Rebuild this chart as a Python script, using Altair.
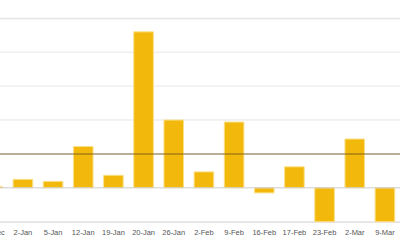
import altair as alt
import pandas as pd

dates = ["29-Dec", "2-Jan", "5-Jan", "12-Jan", "19-Jan", "20-Jan", "26-Jan",
         "2-Feb", "9-Feb", "16-Feb", "17-Feb", "23-Feb", "2-Mar", "9-Mar"]
values = [0.4, 2.5, 1.9, 12.2, 3.7, 46.0, 20.0, 4.7, 19.4, -1.5, 6.2, -10.0, 14.4, -10.0]
ref_value = [10]
grid_values = [-10, 10, 20, 30, 40, 50]

df = pd.DataFrame({"date": dates, "value": values})
ref = pd.DataFrame({"value": ref_value})
zero = pd.DataFrame({"value": [0]})
grid = pd.DataFrame({"value": grid_values})

x = alt.X(
    "date:N", sort=dates, title=None,
    scale=alt.Scale(paddingInner=0.35, paddingOuter=0.175),
    axis=alt.Axis(labelAngle=0, labelFont="Liberation Sans", labelFontSize=7.5,
                  labelColor="#555555", ticks=False, domain=False, grid=False, labelPadding=7),
)
y = alt.Y(
    "value:Q", title=None,
    scale=alt.Scale(domain=[-10, 50], nice=False, zero=False),
    axis=None,
)

grid_rules = alt.Chart(grid).mark_rule(color="#e6e6e6", strokeWidth=1).encode(y=y)
bars = alt.Chart(df).mark_bar(color="#f2b90c", stroke="#fbe08a", strokeWidth=1).encode(x=x, y=y)
zero_rule = alt.Chart(zero).mark_rule(color="#cccccc", strokeWidth=1).encode(y=alt.Y("value:Q"))
ref_rule = alt.Chart(ref).mark_rule(color="#6b4f16", opacity=0.55, strokeWidth=1.5).encode(y=alt.Y("value:Q"))

chart = alt.layer(grid_rules, bars, zero_rule, ref_rule).properties(
    width=423.5, height=204,
    autosize=alt.AutoSizeParams(type="none"),
    padding={"left": -22.4, "top": 18, "right": 0, "bottom": 28},
).configure_view(stroke=None).configure(background="white")

chart.save("out.html", embed_options={"renderer": "svg", "actions": False})
